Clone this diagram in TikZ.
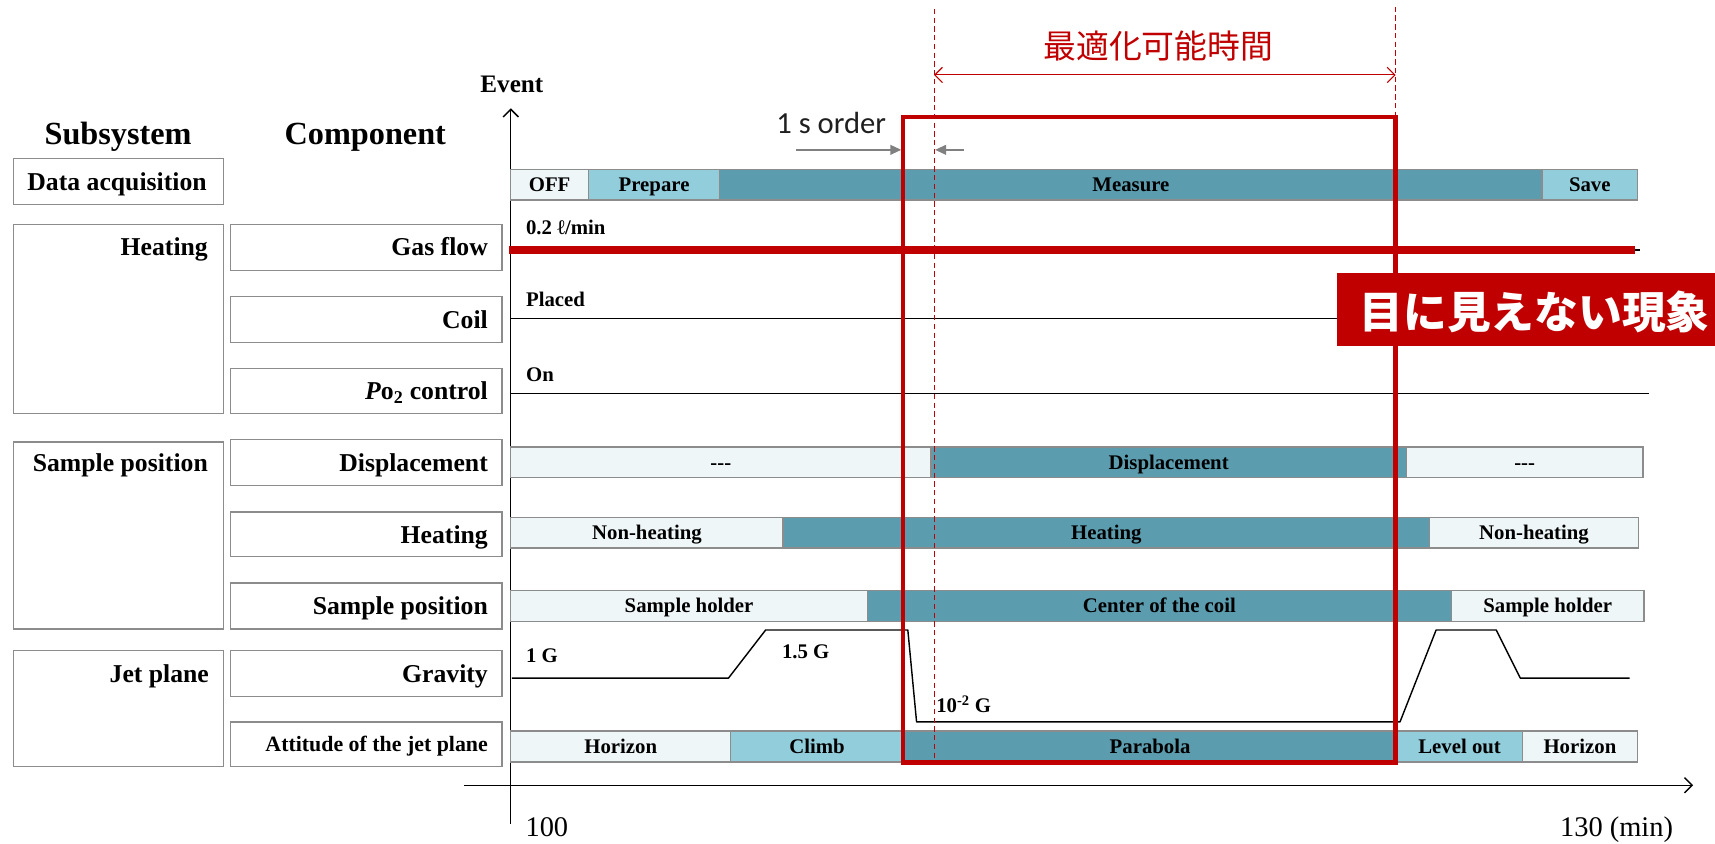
\documentclass[tikz,border=0pt]{standalone}
\usepackage{fontspec}
\setmainfont{Liberation Serif}
\newfontfamily\cjk{Noto Sans CJK JP}
\newfontfamily\calib{Carlito}
\usetikzlibrary{arrows.meta}
\definecolor{lightc}{HTML}{EFF6F8}
\definecolor{midc}{HTML}{92CDDC}
\definecolor{darkc}{HTML}{5B9CAF}
\definecolor{bordc}{HTML}{8C8C8C}
\definecolor{redc}{HTML}{C00000}
\definecolor{grayarr}{HTML}{808080}
\newcommand\fs[1]{\fontsize{#1}{#1}\selectfont}
\newcommand\barseg[6]{\node[barbox, fill=#5, minimum width={(#3-#2)*1pt}] (#1) at (#2,#4) {#6};}
\begin{document}
\begin{tikzpicture}[x=1pt,y=-1pt,
  every node/.style={inner sep=0pt, outer sep=0pt},
  sysbox/.style={draw=bordc, line width=1.2pt},
  barbox/.style={draw=bordc, line width=1.3pt, anchor=west, minimum height=28pt,
    text height=12.6pt, text depth=0pt, font=\fs{19}\bfseries},
  lab/.style={font=\fs{23.5}\bfseries},
  vlab/.style={font=\fs{19}\bfseries, anchor=base west},
  level/.style={line width=1.3pt},
  axis/.style={line width=1.3pt, -{Straight Barb[length=7pt,width=14pt]}},
]
\useasboundingbox (0,0) rectangle (1568,771);
% headings
\node[font=\fs{29.5}\bfseries, anchor=base] (hSub) at (108,132) {Subsystem};
\node[font=\fs{29.5}\bfseries, anchor=base] (hComp) at (334,132) {Component};
% subsystem boxes
\node[sysbox, minimum width=192pt, minimum height=42pt] (sDA) at (108.5,166) {};
\node[sysbox, minimum width=192pt, minimum height=173pt] (sHeat) at (108.5,291.5) {};
\node[sysbox, minimum width=192pt, minimum height=171pt] (sSP) at (108.5,489.5) {};
\node[sysbox, minimum width=192pt, minimum height=106pt] (sJet) at (108.5,648) {};
\node[lab, anchor=base] (tDA) at (107,174) {Data acquisition};
\node[lab, anchor=base east] (tHeat) at (190,234) {Heating};
\node[lab, anchor=base east] (tSP) at (190,431) {Sample position};
\node[lab, anchor=base east] (tJet) at (191,624) {Jet plane};
% component boxes
\node[sysbox, minimum width=248pt, minimum height=42pt] (cGas) at (335,226) {};
\node[sysbox, minimum width=248pt, minimum height=42pt] (cCoil) at (335,292) {};
\node[sysbox, minimum width=248pt, minimum height=41pt] (cPo) at (335,357.5) {};
\node[sysbox, minimum width=248pt, minimum height=42pt] (cDisp) at (335,423) {};
\node[sysbox, minimum width=248pt, minimum height=41pt] (cHeat) at (335,488.5) {};
\node[sysbox, minimum width=248pt, minimum height=42pt] (cSP) at (335,554) {};
\node[sysbox, minimum width=248pt, minimum height=42pt] (cGrav) at (335,616) {};
\node[sysbox, minimum width=248pt, minimum height=41pt] (cAtt) at (335,680.5) {};
\node[lab, anchor=base east] (tGas) at (446,234) {Gas flow};
\node[lab, anchor=base east] (tCoil) at (446,300) {Coil};
\node[lab, anchor=base east] (tPo) at (446,365.5) {\textit{P}o\textsubscript{2} control};
\node[lab, anchor=base east] (tDisp) at (446,431) {Displacement};
\node[lab, anchor=base east] (tCHeat) at (446,496.5) {Heating};
\node[lab, anchor=base east] (tCSP) at (446,562) {Sample position};
\node[lab, anchor=base east] (tGrav) at (446,624) {Gravity};
\node[font=\fs{20}\bfseries, anchor=base east] (tAtt) at (446,687.5) {Attitude of the jet plane};
% axes
\coordinate (yb) at (467,753);
\coordinate (yt) at (467,99);
\coordinate (xl) at (424,718);
\coordinate (xr) at (1548,718);
\draw[axis] (yb) -- (yt);
\draw[axis] (xl) -- (xr);
\node[font=\fs{23}\bfseries, anchor=base] (ev) at (468,85) {Event};
\node[font=\fs{26}, anchor=base] (t100) at (500,765) {100};
\node[font=\fs{26}, anchor=base] (t130) at (1478,765) {130 (min)};
% bars
\barseg{daOff}{467}{538}{169}{lightc}{OFF}
\barseg{daPrep}{538}{658}{169}{midc}{Prepare}
\barseg{daMeas}{658}{1410}{169}{darkc}{Measure}
\barseg{daSave}{1410}{1497}{169}{midc}{Save}
\barseg{dpA}{467}{851}{422.5}{lightc}{-{}-{}-}
\barseg{dpB}{851}{1286}{422.5}{darkc}{Displacement}
\barseg{dpC}{1286}{1502}{422.5}{lightc}{-{}-{}-}
\barseg{htA}{467}{716}{487}{lightc}{Non-heating}
\barseg{htB}{716}{1307}{487}{darkc}{Heating}
\barseg{htC}{1307}{1498}{487}{lightc}{Non-heating}
\barseg{spA}{467}{793}{554}{lightc}{Sample holder}
\barseg{spB}{793}{1327}{554}{darkc}{Center of the coil}
\barseg{spC}{1327}{1503}{554}{lightc}{Sample holder}
\barseg{atA}{467}{668}{682.5}{lightc}{Horizon}
\barseg{atB}{668}{826}{682.5}{midc}{Climb}
\barseg{atC}{826}{1277}{682.5}{darkc}{Parabola}
\barseg{atD}{1277}{1392}{682.5}{midc}{Level out}
\barseg{atE}{1392}{1497}{682.5}{lightc}{Horizon}
% level lines
\node[vlab] (gasT) at (481,214) {0.2 ℓ/min};
\draw[line width=1.2pt] (1490,228.5) -- (1499,228.5);
\draw[redc, line width=7pt] (465,228.5) -- (1495,228.5);
\node[vlab] (coilT) at (481,280) {Placed};
\draw[level] (467,291) -- (1500,291);
\node[vlab] (poT) at (481,349) {On};
\draw[level] (467,360) -- (1508,360);
% gravity
\node[vlab] (g1) at (481,606) {1 G};
\node[vlab] (g15) at (715,602) {1.5 G};
\node[vlab] (g0) at (856,651) {10\textsuperscript{-2} G};
\draw[level, line join=round] (468,620) -- (666,620) -- (700,576) -- (830,576) -- (838,660)
  -- (1280,660) -- (1313,576) -- (1368,576) -- (1390,620) -- (1490,620);
% red window
\node[draw=redc, line width=4pt, minimum width=450.5pt, minimum height=590pt] (win) at (1050.75,402) {};
\draw[redc, line width=1pt, dash pattern=on 5pt off 3pt] (854,8) -- (854,697);
\draw[redc, line width=1pt, dash pattern=on 5pt off 3pt] (1276,6) -- (1276,697);
\coordinate (ra) at (854,68.5);
\coordinate (rb) at (1276,68.5);
\draw[redc, line width=1pt, {Straight Barb[length=7pt,width=14pt]}-{Straight Barb[length=7pt,width=14pt]}] (ra) -- (rb);
\node[text=redc, font=\fs{30}\cjk] (opt) at (1059,42.5) {最適化可能時間};
% 1 s order
\node[font=\fs{28}\calib, text=black!88, anchor=base] (ord) at (760,122) {1 s order};
\coordinate (oa1) at (728,137);
\coordinate (oa2) at (824,137);
\coordinate (ob1) at (881,137);
\coordinate (ob2) at (855,137);
\draw[grayarr, line width=1.3pt, -{Triangle[length=10pt,width=9pt]}] (oa1) -- (oa2);
\draw[grayarr, line width=1.3pt, -{Triangle[length=10pt,width=9pt]}] (ob1) -- (ob2);
% invisible phenomenon label
\node[fill=redc, minimum width=346pt, minimum height=66pt] (inv) at (1395,283) {};
\node[text=white, font=\fs{40}\cjk\bfseries] (invT) at (1403,285) {目に見えない現象};
\end{tikzpicture}
\end{document}
